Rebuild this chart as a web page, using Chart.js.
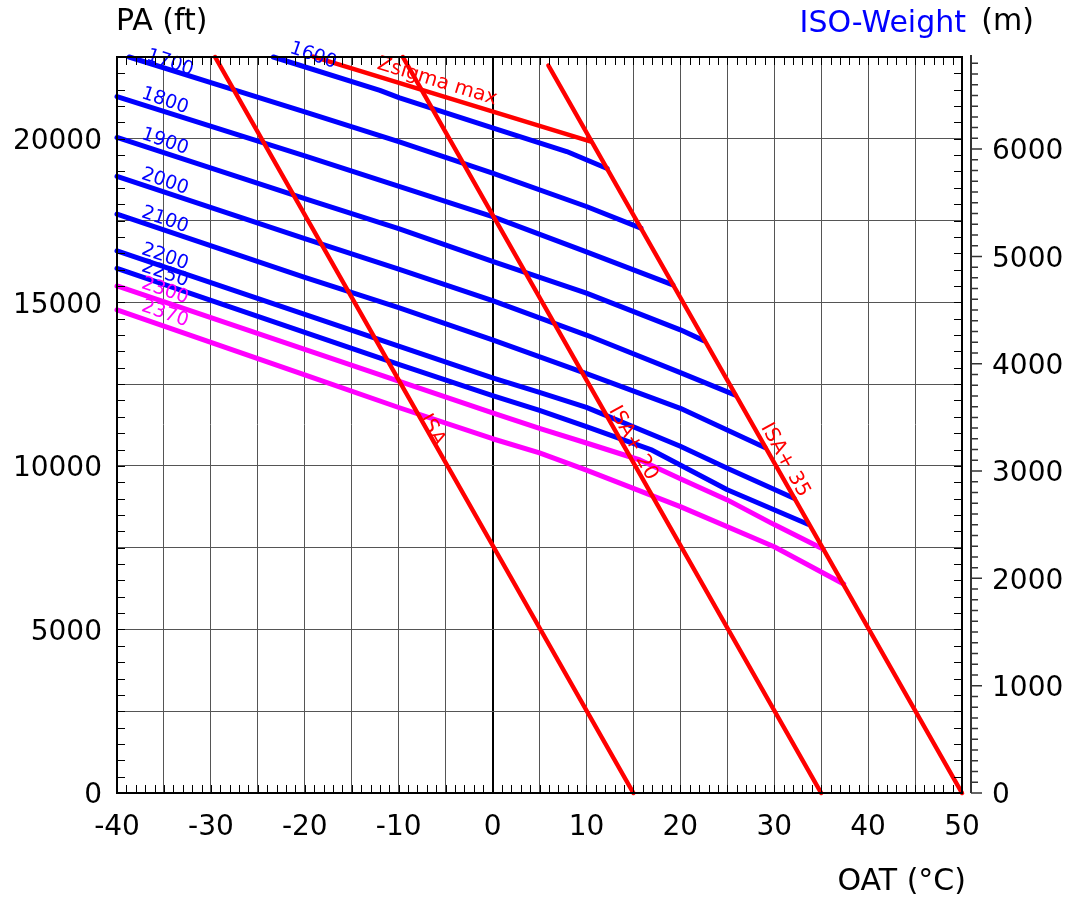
<!DOCTYPE html>
<html>
<head>
<meta charset="utf-8">
<script src="https://cdn.jsdelivr.net/npm/chart.js@4.4.1/dist/chart.umd.min.js"></script>
<style>
  html, body { margin: 0; padding: 0; background: #fff; }
</style>
</head>
<body>
<canvas id="chart" width="1067" height="897"></canvas>
<script>
// axis ranges and tick labels
var oatMin = -40, oatMax = 50;
var paMax = 22500;
var ftPerM = 3.28084;
var metreTicks = [0, 1000, 2000, 3000, 4000, 5000, 6000];

// temperature limit lines [OAT degC, PA ft]
var isa     = [[15, 0], [-29.55, 22500]];
var isa20   = [[35, 0], [-9.55, 22500]];
var isa35   = [[50, 0], [5.95, 22240]];
var zsigma  = [[-19.1, 22510], [10.4, 19920]];

// iso-weight lines [OAT degC, PA ft]
var w1600 = [[-23.35, 22500], [-12, 21480], [-9.9, 21250], [0, 20330], [7.9, 19610], [12.2, 19090]];
var w1700 = [[-38.7, 22500], [-30, 21720], [-20, 20820], [-10, 19910], [0, 18950], [10, 17930], [15.8, 17270]];
var w1800 = [[-40, 21290], [-20, 19480], [0, 17620], [10, 16540], [19.2, 15535]];
var w1900 = [[-40, 20040], [-20, 18170], [-10, 17250], [0, 16250], [10, 15280], [20, 14160], [22.5, 13830]];
var w2000 = [[-40, 18850], [-20, 16950], [-10, 16015], [0, 15050], [10, 14000], [20, 12850], [25.8, 12170]];
var w2100 = [[-40, 17700], [-20, 15765], [-10, 14840], [0, 13850], [10, 12820], [20, 11760], [29, 10560]];
var w2200 = [[-40, 16575], [-20, 14635], [-10, 13660], [0, 12690], [5, 12250], [10, 11790], [20, 10600], [25, 9930], [32.1, 9010]];
var w2250 = [[-40, 16040], [-20, 14085], [-10, 13105], [0, 12150], [5, 11700], [10, 11200], [17, 10480], [25, 9270], [33.6, 8217]];
var w2300 = [[-40, 15500], [-20, 13565], [-10, 12590], [0, 11620], [5, 11150], [10, 10700], [15.7, 10180], [20, 9605], [25, 8960], [30, 8205], [35.2, 7462]];
var w2370 = [[-40, 14770], [-20, 12785], [-10, 11785], [0, 10830], [5, 10400], [10, 9870], [20, 8755], [30, 7530], [37.4, 6391]];

var RED = "#ff0000", BLUE = "#0000ff", MAG = "#ff00ff";
var FONT = '"DejaVu Sans", "Liberation Sans", Arial, sans-serif';

// red lines first so they are painted on top
var series = [
  { name: "ISA", pts: isa, color: RED },
  { name: "ISA+20", pts: isa20, color: RED },
  { name: "ISA+35", pts: isa35, color: RED },
  { name: "Zsigma max", pts: zsigma, color: RED },
  { name: "1600", pts: w1600, color: BLUE },
  { name: "1700", pts: w1700, color: BLUE },
  { name: "1800", pts: w1800, color: BLUE },
  { name: "1900", pts: w1900, color: BLUE },
  { name: "2000", pts: w2000, color: BLUE },
  { name: "2100", pts: w2100, color: BLUE },
  { name: "2200", pts: w2200, color: BLUE },
  { name: "2250", pts: w2250, color: BLUE },
  { name: "2300", pts: w2300, color: MAG },
  { name: "2370", pts: w2370, color: MAG }
];

// text placed on the chart (data coords, rotation in degrees)
var notes = [
  { t: "1600", at: [-19.1, 22540], rot: 19, color: BLUE, size: 19 },
  { t: "1700", at: [-34.35, 22320], rot: 19, color: BLUE, size: 19 },
  { t: "1800", at: [-34.9, 21160], rot: 19, color: BLUE, size: 19 },
  { t: "1900", at: [-34.9, 19910], rot: 19, color: BLUE, size: 19 },
  { t: "2000", at: [-34.9, 18690], rot: 19, color: BLUE, size: 19 },
  { t: "2100", at: [-34.9, 17520], rot: 19, color: BLUE, size: 19 },
  { t: "2200", at: [-34.9, 16390], rot: 19, color: BLUE, size: 19 },
  { t: "2250", at: [-34.9, 15870], rot: 19, color: BLUE, size: 19 },
  { t: "2300", at: [-34.9, 15350], rot: 19, color: MAG, size: 19 },
  { t: "2370", at: [-34.9, 14650], rot: 19, color: MAG, size: 19 },
  { t: "Zsigma max", at: [-5.9, 21750], rot: 17, color: RED, size: 20 },
  { t: "ISA", at: [-6.45, 11100], rot: 61, color: RED, size: 20 },
  { t: "ISA+ 20", at: [14.96, 10700], rot: 61, color: RED, size: 20 },
  { t: "ISA+ 35", at: [31.15, 10180], rot: 61, color: RED, size: 20 }
];

var decor = {
  id: "decor",
  afterDatasetsDraw: function (chart) {
    var ctx = chart.ctx;
    var x = chart.scales.x, y = chart.scales.y;
    ctx.save();
    ctx.textAlign = "center";
    ctx.textBaseline = "middle";
    notes.forEach(function (n) {
      ctx.save();
      ctx.translate(x.getPixelForValue(n.at[0]), y.getPixelForValue(n.at[1]));
      ctx.rotate(n.rot * Math.PI / 180);
      ctx.fillStyle = n.color;
      ctx.font = n.size + "px " + FONT;
      ctx.fillText(n.t, 0, 0);
      ctx.restore();
    });
    ctx.restore();
  },
  afterDraw: function (chart) {
    var ctx = chart.ctx, a = chart.chartArea;
    var x = chart.scales.x, y = chart.scales.y;
    ctx.save();
    // inward minor ticks
    ctx.strokeStyle = "#000";
    ctx.lineWidth = 1;
    ctx.beginPath();
    for (var t = oatMin; t <= oatMax; t++) {
      var px = Math.round(x.getPixelForValue(t)) + 0.5;
      ctx.moveTo(px, a.bottom); ctx.lineTo(px, a.bottom - 8);
      ctx.moveTo(px, a.top); ctx.lineTo(px, a.top + 8);
    }
    for (var f = 0; f <= paMax; f += 500) {
      var py = Math.round(y.getPixelForValue(f)) + 0.5;
      ctx.moveTo(a.left, py); ctx.lineTo(a.left + 8, py);
      ctx.moveTo(a.right, py); ctx.lineTo(a.right - 8, py);
    }
    ctx.stroke();
    // frame
    ctx.lineWidth = 2;
    ctx.strokeRect(a.left, a.top, a.right - a.left, a.bottom - a.top);
    // metre axis line and ticks
    var ax = a.right + 9;
    ctx.strokeStyle = "#333";
    ctx.lineWidth = 2;
    ctx.beginPath();
    ctx.moveTo(ax, a.top - 2); ctx.lineTo(ax, a.bottom);
    ctx.stroke();
    ctx.lineWidth = 1.5;
    ctx.beginPath();
    for (var m = 0; m * ftPerM <= paMax; m += 100) {
      var my = y.getPixelForValue(m * ftPerM);
      var len = m % 1000 === 0 ? 11 : 7;
      ctx.moveTo(ax, my); ctx.lineTo(ax + len, my);
    }
    ctx.stroke();
    // titles
    ctx.textBaseline = "middle";
    ctx.font = "30px " + FONT;
    ctx.fillStyle = "#000";
    ctx.textAlign = "left";
    ctx.fillText("PA (ft)", 116, 22);
    ctx.textAlign = "right";
    ctx.fillText("(m)", 1034, 22);
    ctx.fillStyle = BLUE;
    ctx.fillText("ISO-Weight", 966, 24);
    ctx.fillStyle = "#000";
    ctx.fillText("OAT (\u00b0C)", 966, 882);
    ctx.restore();
  }
};

var tickFont = { family: FONT, size: 28 };

new Chart(document.getElementById("chart").getContext("2d"), {
  type: "scatter",
  data: {
    datasets: series.map(function (s) {
      return {
        label: s.name,
        data: s.pts.map(function (p) { return { x: p[0], y: p[1] }; }),
        showLine: true,
        borderColor: s.color,
        backgroundColor: s.color,
        borderWidth: s.color === RED ? 4.5 : 5,
        pointRadius: 0,
        tension: 0,
        borderCapStyle: "round",
        borderJoinStyle: "round",
        clip: false
      };
    })
  },
  options: {
    responsive: false,
    animation: false,
    devicePixelRatio: 1,
    layout: { padding: { top: 57, left: 0, right: 0, bottom: 0 } },
    plugins: { legend: { display: false }, tooltip: { enabled: false } },
    scales: {
      x: {
        type: "linear",
        min: oatMin,
        max: oatMax,
        afterFit: function (s) { s.height = 104; },
        ticks: {
          stepSize: 5,
          autoSkip: false,
          maxRotation: 0,
          padding: 18,
          color: "#000",
          font: tickFont,
          callback: function (v) { return v % 10 === 0 ? String(v) : ""; }
        },
        grid: {
          drawTicks: false,
          color: function (c) { return c.tick && c.tick.value === 0 ? "#000" : "#555"; },
          lineWidth: function (c) { return c.tick && c.tick.value === 0 ? 2 : 1; }
        },
        border: { color: "#000", width: 2 }
      },
      y: {
        type: "linear",
        min: 0,
        max: paMax,
        afterFit: function (s) { s.width = 117; },
        ticks: {
          stepSize: 2500,
          autoSkip: false,
          padding: 15,
          labelOffset: 3,
          color: "#000",
          font: tickFont,
          callback: function (v) { return v % 5000 === 0 ? String(v) : ""; }
        },
        grid: { drawTicks: false, color: "#555", lineWidth: 1 },
        border: { color: "#000", width: 2 }
      },
      y2: {
        type: "linear",
        position: "right",
        min: 0,
        max: paMax / ftPerM,
        afterFit: function (s) { s.width = 105; },
        afterBuildTicks: function (s) {
          s.ticks = metreTicks.map(function (v) { return { value: v }; });
        },
        ticks: {
          autoSkip: false,
          padding: 22,
          labelOffset: 3,
          color: "#000",
          font: tickFont,
          callback: function (v) { return String(v); }
        },
        grid: { display: false },
        border: { display: false }
      }
    }
  },
  plugins: [decor]
});
</script>
</body>
</html>
